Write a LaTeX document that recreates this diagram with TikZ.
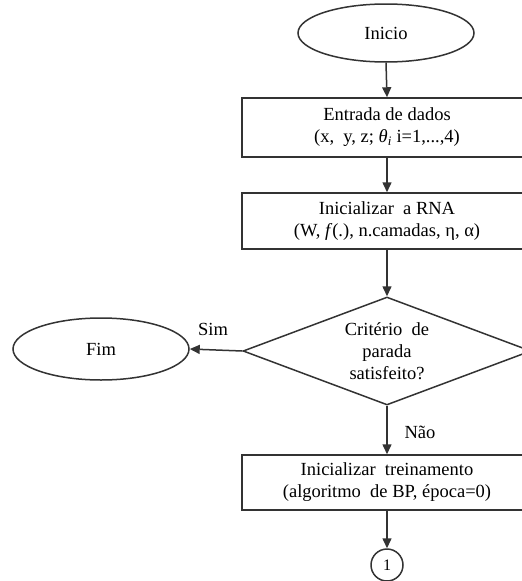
\documentclass[tikz,border=0pt]{standalone}
\usepackage{fontspec}
\setmainfont{Liberation Serif}
\usetikzlibrary{shapes.geometric,arrows.meta}
\begin{document}
\begin{tikzpicture}[x=1pt,y=-1pt,
  every node/.style={font=\fontsize{18.5}{22}\selectfont, text=black},
  ln/.style={draw=black!80, line width=1.5pt},
  terminal/.style={ln, ellipse, minimum width=176pt, minimum height=58pt, inner sep=0pt},
  process/.style={ln, rectangle, minimum width=290pt, inner sep=0pt, align=center},
  decision/.style={ln, diamond, minimum width=288pt, minimum height=108pt, inner sep=0pt},
  connector/.style={ln, circle, minimum size=32pt, inner sep=0pt, font=\fontsize{16}{18}\selectfont},
  flow/.style={ln, -{Triangle[length=10pt,width=9pt]}},
  tag/.style={inner sep=0pt}]
\useasboundingbox (0,0) rectangle (522,581);
\clip (0,0) rectangle (522,581);

% start
\node[terminal] (inicio) at (386,33) {Inicio};

% data input
\node[process, minimum height=59pt] (entrada) at (387,127.5)
  {Entrada de dados\\(x,\ \ y, z; \textit{θ}\textsubscript{\textit{i}} i=1,...,4)};

% network setup
\node[process, minimum height=56pt] (rna) at (387,221)
  {Inicializar\ \ a RNA\\(W, \textit{f}(.), n.camadas, η, α)};

% stopping test
\node[decision] (crit) at (387,351) {};
\node[align=center] (crittext) at (crit.center) {Critério\ \ de\\parada\\satisfeito?};

% end
\node[terminal, minimum height=62pt] (fim) at (101,349) {Fim};

% training setup
\node[process, minimum height=55pt] (trein) at (387,482.5)
  {Inicializar\ \ treinamento\\(algoritmo\ \ de BP, época=0)};

% off-page connector
\node[connector] (c1) at (387,565) {1};

% connectors
\draw[flow] (inicio.south) -- (entrada.north);
\draw[flow] (entrada.south) -- (rna.north);
\draw[flow] (rna.south) -- (crit.north);
\draw[flow] (crit.west) -- (fim.east);
\draw[flow] (crit.south) -- (trein.north);
\draw[flow] (trein.south) -- (c1.north);

% branch labels
\node[tag] (sim) at (213,329) {Sim};
\node[tag] (nao) at (420,432) {Não};
\end{tikzpicture}
\end{document}
